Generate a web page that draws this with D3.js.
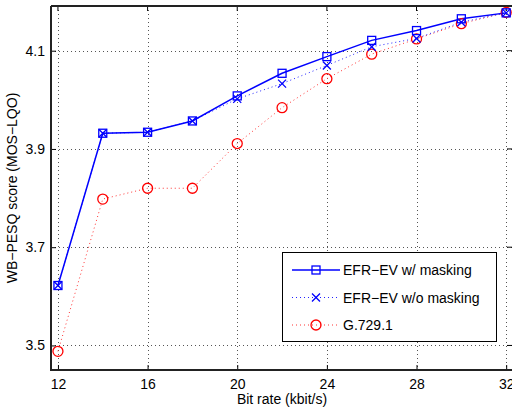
<!DOCTYPE html>
<html>
<head>
<meta charset="utf-8">
<script src="https://cdn.jsdelivr.net/npm/d3@7"></script>
<style>
  body { margin: 0; background: #fff; }
  svg text { font-family: "Liberation Sans", Arial, sans-serif; fill: #000; }
</style>
</head>
<body>
<script>
// bit rates (kbit/s)
var bitRates = [12, 14, 16, 18, 20, 22, 24, 26, 28, 30, 32];
// WB-PESQ scores
var efrMasking   = [3.622, 3.932, 3.934, 3.957, 4.008, 4.054, 4.088, 4.121, 4.141, 4.165, 4.177];
var efrNoMasking = [3.622, 3.932, 3.934, 3.957, 4.002, 4.033, 4.070, 4.108, 4.125, 4.158, 4.177];
var g7291        = [3.488, 3.798, 3.820, 3.820, 3.911, 3.984, 4.043, 4.093, 4.124, 4.155, 4.178];
var xTicks = [12, 16, 20, 24, 28, 32];
var yTicks = [3.5, 3.7, 3.9, 4.1];
var seriesNames = ["EFR\u2212EV w/ masking", "EFR\u2212EV w/o masking", "G.729.1"];

var W = 512, H = 409;
var L = 51, R = 512, T = 6, B = 370;

var svg = d3.select("body").append("svg")
    .attr("width", W)
    .attr("height", H);

var x = d3.scaleLinear().domain([11.69, 32.26]).range([L, R]);
var y = d3.scaleLinear().domain([3.45, 4.191]).range([B, T]);

// grid
var grid = svg.append("g").attr("stroke", "#555").attr("stroke-width", 1)
    .attr("stroke-dasharray", "1,3");
grid.selectAll("line.gx").data(xTicks).enter().append("line")
    .attr("x1", d => Math.round(x(d)) + 0.5).attr("x2", d => Math.round(x(d)) + 0.5)
    .attr("y1", T).attr("y2", B);
grid.selectAll("line.gy").data(yTicks).enter().append("line")
    .attr("y1", d => Math.round(y(d)) + 0.5).attr("y2", d => Math.round(y(d)) + 0.5)
    .attr("x1", L).attr("x2", R);

// axes (ticks inward like matlab)
var xAxis = d3.axisBottom(x).tickValues(xTicks).tickSize(-5).tickPadding(9)
    .tickFormat(d3.format("d"));
var gx = svg.append("g").attr("transform", "translate(0," + B + ")").call(xAxis);
var yAxis = d3.axisLeft(y).tickValues(yTicks).tickSize(-5).tickPadding(6)
    .tickFormat(d3.format(".1f"));
var gy = svg.append("g").attr("transform", "translate(" + L + ",0)").call(yAxis);
[gx, gy].forEach(function(g) {
    g.select(".domain").remove();
    g.selectAll("text").style("font-size", "14px");
    g.selectAll("line").attr("stroke", "#000");
});
// right-side ticks
svg.selectAll("line.rt").data(yTicks).enter().append("line")
    .attr("x1", R - 5).attr("x2", R)
    .attr("y1", d => y(d)).attr("y2", d => y(d))
    .attr("stroke", "#000");
svg.selectAll("line.tt").data(xTicks).enter().append("line")
    .attr("x1", d => x(d)).attr("x2", d => x(d))
    .attr("y1", T).attr("y2", T + 5)
    .attr("stroke", "#000");

// frame
svg.append("path")
    .attr("d", "M" + L + "," + T + "H" + R + "M" + L + "," + T + "V" + B + "H" + R)
    .attr("fill", "none").attr("stroke", "#222").attr("stroke-width", 2);

// lines
var line = d3.line().x(d => x(d[0])).y(d => y(d[1]));
function pairs(vals) { return bitRates.map((b, i) => [b, vals[i]]); }

svg.append("path").datum(pairs(g7291)).attr("d", line)
    .attr("fill", "none").attr("stroke", "#f33").attr("stroke-width", 1)
    .attr("stroke-dasharray", "1,3");
svg.append("path").datum(pairs(efrNoMasking)).attr("d", line)
    .attr("fill", "none").attr("stroke", "#22f").attr("stroke-width", 1)
    .attr("stroke-dasharray", "1,3");
svg.append("path").datum(pairs(efrMasking)).attr("d", line)
    .attr("fill", "none").attr("stroke", "#00f").attr("stroke-width", 1.5);

// markers
function square(g, cx, cy) {
    g.append("rect").attr("x", cx - 4).attr("y", cy - 4).attr("width", 8).attr("height", 8)
        .attr("fill", "none").attr("stroke", "#00f").attr("stroke-width", 1.3);
}
function cross(g, cx, cy) {
    g.append("path").attr("d", "M" + (cx - 4) + "," + (cy - 4) + "L" + (cx + 4) + "," + (cy + 4) +
        "M" + (cx - 4) + "," + (cy + 4) + "L" + (cx + 4) + "," + (cy - 4))
        .attr("stroke", "#00f").attr("stroke-width", 1.3);
}
function circle(g, cx, cy) {
    g.append("circle").attr("cx", cx).attr("cy", cy).attr("r", 5)
        .attr("fill", "none").attr("stroke", "#f00").attr("stroke-width", 1.3);
}
var marks = svg.append("g");
pairs(g7291).forEach(d => circle(marks, x(d[0]), y(d[1])));
pairs(efrNoMasking).forEach(d => cross(marks, x(d[0]), y(d[1])));
pairs(efrMasking).forEach(d => square(marks, x(d[0]), y(d[1])));

// axis labels
svg.append("text").attr("x", 282).attr("y", 404).attr("text-anchor", "middle")
    .style("font-size", "14px").text("Bit rate (kbit/s)");
svg.append("text").attr("transform", "translate(17,188) rotate(-90)")
    .attr("text-anchor", "middle").style("font-size", "14px")
    .text("WB\u2212PESQ score (MOS\u2212LQO)");

// legend
var lg = svg.append("g");
lg.append("rect").attr("x", 282.5).attr("y", 252.5).attr("width", 214).attr("height", 89)
    .attr("fill", "#fff").attr("stroke", "#000").attr("stroke-width", 1);
var styles = [
    { stroke: "#00f", dash: null, w: 1.5, mark: square },
    { stroke: "#22f", dash: "1,3", w: 1, mark: cross },
    { stroke: "#f33", dash: "1,3", w: 1, mark: circle }
];
seriesNames.forEach(function(name, i) {
    var cy = 270 + i * 27.5;
    lg.append("line").attr("x1", 292).attr("x2", 340).attr("y1", cy).attr("y2", cy)
        .attr("stroke", styles[i].stroke).attr("stroke-width", styles[i].w)
        .attr("stroke-dasharray", styles[i].dash);
    styles[i].mark(lg, 316, cy);
    lg.append("text").attr("x", 343).attr("y", cy + 5).style("font-size", "14px").text(name);
});
</script>
</body>
</html>
